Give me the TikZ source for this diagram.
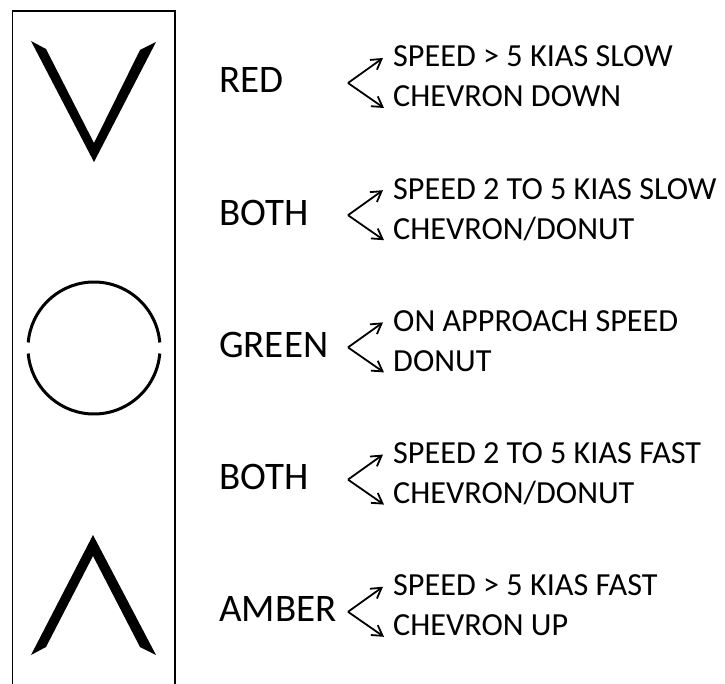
\documentclass[tikz,border=0pt]{standalone}
\usepackage{fontspec}
\setmainfont{Carlito}
\usetikzlibrary{arrows.meta}
\begin{document}
\begin{tikzpicture}[x=1pt,y=-1pt,
  lbl/.style={anchor=base west,inner sep=0pt,font=\fontsize{39}{40}\selectfont},
  desc/.style={anchor=base west,inner sep=0pt,font=\fontsize{32.2}{33}\selectfont},
  arr/.style={line width=1.8pt,-{Straight Barb[length=10pt,width=12pt,line width=1.8pt]}},
  frame/.style={line width=1.9pt},
  sym/.style={fill=black}]
\useasboundingbox (0,0) rectangle (725,684);
% frame
\draw[frame] (12.5,700) -- (12.5,11) -- (175,11) -- (175,700);
% chevron down
\fill[sym] (31,41) -- (46,49) -- (94,143) -- (140,50) -- (156,42) -- (94,162) -- cycle;
% donut
\draw[line width=3pt] (94,348) ++(-4.8:66) arc[start angle=-4.8,end angle=-175.2,radius=66];
\draw[line width=3pt] (94,348) ++(4.8:66) arc[start angle=4.8,end angle=175.2,radius=66];
% chevron up
\fill[sym] (31,655) -- (46,647) -- (93,556) -- (140,647) -- (156,655) -- (93,535) -- cycle;
% labels
\foreach \i/\t/\a/\b [count=\k from 0] in {
  1/RED/{SPEED > 5 KIAS SLOW}/{CHEVRON DOWN},
  2/BOTH/{SPEED 2 TO 5 KIAS SLOW}/{CHEVRON/DONUT},
  3/GREEN/{ON APPROACH SPEED}/{DONUT},
  4/BOTH/{SPEED 2 TO 5 KIAS FAST}/{CHEVRON/DONUT},
  5/AMBER/{SPEED > 5 KIAS FAST}/{CHEVRON UP}}{
  \pgfmathsetmacro\dy{132.2*\k}
  \node[lbl] (l\i) at (219,93+\dy) {\t};
  \node[desc] (u\i) at (393,67+\dy) {\a};
  \node[desc] (d\i) at (393,107+\dy) {\b};
  \coordinate (v\i) at (348,83+\dy);
  \coordinate (tu\i) at (383,58+\dy);
  \coordinate (td\i) at (384,108+\dy);
  \draw[arr] (v\i) -- (tu\i);
  \draw[arr] (v\i) -- (td\i);
}
\end{tikzpicture}
\end{document}
